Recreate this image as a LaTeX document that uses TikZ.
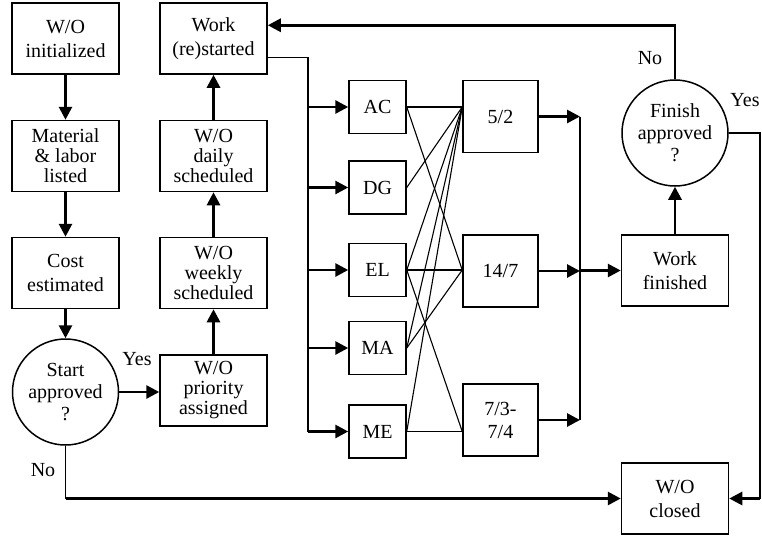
\documentclass[tikz,border=0pt]{standalone}
\usepackage{fontspec}
\setmainfont{Liberation Serif}
\usetikzlibrary{arrows.meta, positioning, calc}

\begin{document}
\begin{tikzpicture}[x=1pt, y=-1pt,
    every node/.style={font=\fontsize{20}{24}\selectfont},
    box/.style={draw, line width=1.5pt, minimum width=107pt, minimum height=71pt, inner sep=0pt, align=center},
    tight/.style={font=\fontsize{20}{20}\selectfont},
    dept/.style={box, minimum width=57pt, minimum height=53pt},
    shiftbox/.style={box, minimum width=75pt, minimum height=72pt},
    query/.style={draw, circle, line width=1.5pt, minimum size=106pt, inner sep=0pt, align=center, font=\fontsize{20}{22}\selectfont},
    arr/.style={line width=2.8pt, -{Triangle[length=13pt, width=13pt]}},
    link/.style={line width=1.1pt}]
    \useasboundingbox (0,0) rectangle (762,535);
    % Left column
    \node[box] (init) at (65.5,38.5) {W/O\\initialized};
    \node[box, tight] (listed) at (65.5,156) {Material\\\& labor\\listed};
    \node[box] (cost) at (65.5,273) {Cost\\estimated};
    \node[query] (start) at (65.5,392) {Start\\approved\\?};
    % Scheduling column
    \node[box] (restart) at (213.5,38.5) {Work\\(re)started};
    \node[box, tight] (daily) at (213.5,156) {W/O\\daily\\scheduled};
    \node[box, tight] (weekly) at (213.5,273) {W/O\\weekly\\scheduled};
    \node[box, tight] (prio) at (213.5,390.5) {W/O\\priority\\assigned};
    % Departments
    \foreach \d/\y in {AC/107, DG/187.5, EL/270, MA/348, ME/431.5}
        \node[dept] (\d) at (377.5,\y) {\d};
    % Shifts
    \node[shiftbox] (s52) at (500.5,116.5) {5/2};
    \node[shiftbox] (s147) at (500.5,271) {14/7};
    \node[shiftbox, font=\fontsize{20}{23}\selectfont] (s734) at (500.5,420) {7/3-\\7/4};
    % Right column
    \node[box] (finished) at (675,270.5) {Work\\finished};
    \node[query] (finish) at (675,133) {Finish\\approved\\?};
    \node[box] (closed) at (675,498.5) {W/O\\closed};
    % Bus lines
    \coordinate (bus) at (308,0);
    \coordinate (merge) at (580,0);
    \coordinate (yesx) at (760,0);
    % Main flow
    \draw[arr] (init) -- (listed);
    \draw[arr] (listed) -- (cost);
    \draw[arr] (cost) -- (start);
    \draw[arr] (start.east) -- (prio.west |- start.east);
    \node at (137,359) {Yes};
    \draw[arr] (prio) -- (weekly);
    \draw[arr] (weekly) -- (daily);
    \draw[arr] (daily) -- (restart);
    % To departments
    \draw[link] ($(restart.south east)+(0,-17)$) -| (bus |- ME.west);
    \foreach \d in {AC,DG,EL,MA,ME}
        \draw[arr] (bus |- \d.west) -- (\d.west);
    % Departments to shifts
    \coordinate (p52) at (s52.west |- AC.east);
    \coordinate (p147) at (s147.west |- EL.east);
    \coordinate (p734) at (s734.west |- ME.east);
    \foreach \a/\b in {AC/p52, AC/p147, DG/p52, EL/p52, EL/p147, EL/p734, MA/p52, MA/p147, ME/p52, ME/p734}
        \draw[link] (\a.east) -- (\b);
    % Shifts to finish
    \draw[link] (merge |- s52.east) -- (merge |- s734.east);
    \foreach \s in {s52,s147,s734}
        \draw[arr] (\s.east) -- (merge |- \s.east);
    \draw[arr] (merge |- finished.west) -- (finished.west);
    \draw[arr] (finished) -- (finish);
    % Approval loops
    \draw[arr] (finish.north) |- ($(restart.north east)+(0,23)$);
    \node at (650,58) {No};
    \draw[link] (finish.east) -| (yesx |- closed.east);
    \draw[arr] (yesx |- closed.east) -- (closed.east);
    \node at (745,100) {Yes};
    \draw[link] (start.south) -- (start.south |- closed.west);
    \draw[arr] (start.south |- closed.west) -- (closed.west);
    \node at (43,470) {No};
\end{tikzpicture}
\end{document}
